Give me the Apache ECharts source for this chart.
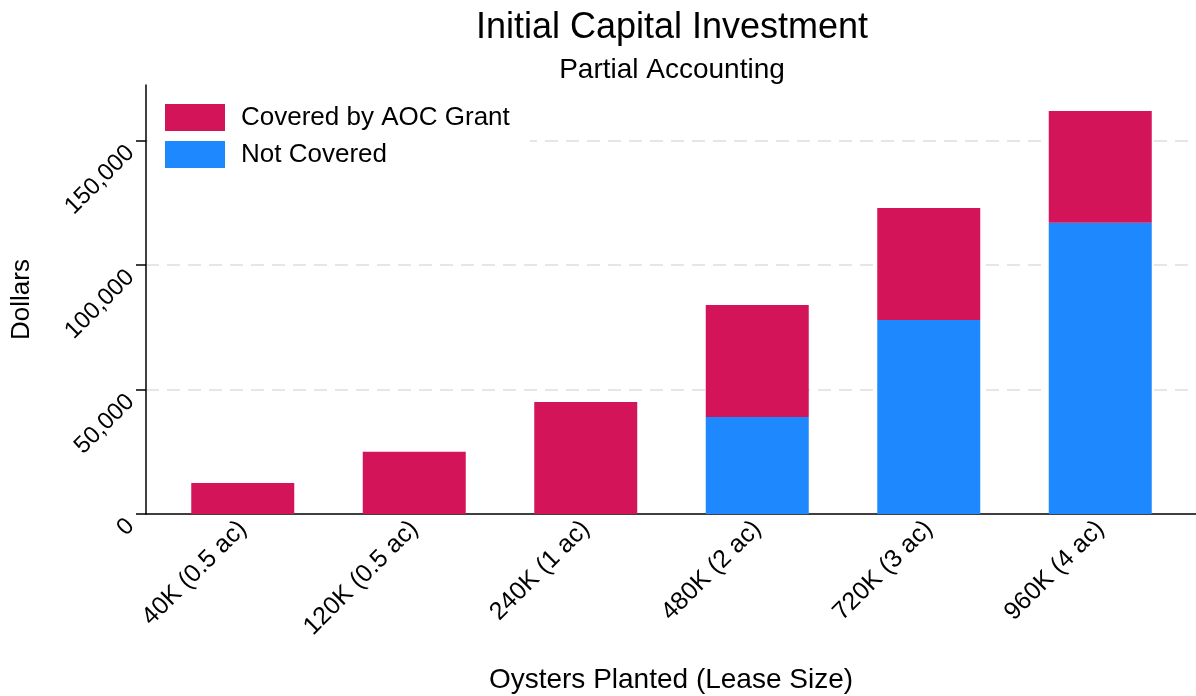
<!DOCTYPE html>
<html>
<head>
<meta charset="utf-8">
<title>Initial Capital Investment</title>
<script src="https://cdn.jsdelivr.net/npm/echarts@6/dist/echarts.min.js"></script>
<style>
  html, body { margin: 0; padding: 0; background: #fff; }
  #chart { width: 1196px; height: 696px; }
</style>
</head>
<body>
<div id="chart"></div>
<script>
// lease sizes on the x axis
const categories = ['40K (0.5 ac)', '120K (0.5 ac)', '240K (1 ac)', '480K (2 ac)', '720K (3 ac)', '960K (4 ac)']
// dollars
const notCovered = [0, 0, 0, 39000, 78000, 117000]
const coveredByGrant = [12500, 25000, 45000, 45000, 45000, 45000]
const yTicks = [0, 50000, 100000, 150000]
const yMax = 172400

const FONT = 'Liberation Sans, Arial, sans-serif'
const RED = '#D41459'
const BLUE = '#1E88FF'

const myChart = echarts.init(document.getElementById('chart'))

const option = {
  animation: false,
  textStyle: { fontFamily: FONT },
  title: {
    text: 'Initial Capital Investment',
    subtext: 'Partial Accounting',
    left: 667,
    top: 5,
    textAlign: 'center',
    itemGap: 10,
    textStyle: { fontSize: 36, fontWeight: 'normal', color: '#000', fontFamily: FONT },
    subtextStyle: { fontSize: 28, color: '#000', fontFamily: FONT }
  },
  legend: {
    data: ['Covered by AOC Grant', 'Not Covered'],
    orient: 'vertical',
    left: 148,
    top: 94,
    padding: [10, 20, 8, 17],
    backgroundColor: '#fff',
    icon: 'rect',
    itemWidth: 60,
    itemHeight: 27,
    itemGap: 10,
    textStyle: { fontSize: 26, color: '#000', padding: [0, 0, 0, 11], fontFamily: FONT }
  },
  // grid 0 holds the bars (bands are inset a little from the axes),
  // grid 1 only draws the frame: axis lines, y ticks, labels, gridlines
  grid: [
    { left: 157, right: 10, top: 85, bottom: 182, outerBoundsMode: 'none' },
    { left: 146, right: 0, top: 85, bottom: 182, outerBoundsMode: 'none' }
  ],
  xAxis: [
    {
      type: 'category',
      gridIndex: 0,
      data: categories,
      axisLine: { show: false },
      axisTick: { show: false },
      axisLabel: {
        rotate: 45,
        margin: 11,
        fontSize: 25,
        color: '#000',
        fontFamily: FONT
      }
    },
    {
      type: 'value',
      gridIndex: 1,
      min: 0,
      max: 1,
      name: 'Oysters Planted (Lease Size)',
      nameLocation: 'middle',
      nameGap: 152,
      nameTextStyle: { fontSize: 28, color: '#000', fontFamily: FONT },
      axisLine: { show: true, onZero: false, lineStyle: { color: '#000', width: 1.5 } },
      axisTick: { show: false },
      axisLabel: { show: false },
      splitLine: { show: false }
    }
  ],
  yAxis: [
    {
      type: 'value',
      gridIndex: 0,
      min: 0,
      max: yMax,
      axisLine: { show: false },
      axisTick: { show: false },
      axisLabel: { show: false },
      splitLine: { show: false }
    },
    {
      type: 'value',
      gridIndex: 1,
      min: 0,
      max: yMax,
      name: 'Dollars',
      nameLocation: 'middle',
      nameGap: 111,
      nameTextStyle: { fontSize: 26, color: '#000', fontFamily: FONT },
      axisLine: { show: true, onZero: false, lineStyle: { color: '#000', width: 1.5 } },
      axisTick: { show: true, inside: false, length: 10, customValues: yTicks, lineStyle: { color: '#000', width: 1.5 } },
      axisLabel: {
        customValues: yTicks,
        formatter: v => v.toLocaleString('en-US'),
        rotate: 45,
        margin: 24,
        verticalAlign: 'top',
        fontSize: 24,
        color: '#000',
        fontFamily: FONT
      },
      splitLine: {
        show: true,
        showMinLine: false,
        lineStyle: { color: '#e6e6e6', width: 2, type: [13, 8] }
      }
    }
  ],
  series: [
    {
      name: 'Not Covered',
      type: 'bar',
      xAxisIndex: 0,
      yAxisIndex: 0,
      stack: 'total',
      barWidth: 103,
      itemStyle: { color: BLUE },
      data: notCovered
    },
    {
      name: 'Covered by AOC Grant',
      type: 'bar',
      xAxisIndex: 0,
      yAxisIndex: 0,
      stack: 'total',
      barWidth: 103,
      itemStyle: { color: RED },
      data: coveredByGrant
    }
  ]
}
myChart.setOption(option)
</script>
</body>
</html>
